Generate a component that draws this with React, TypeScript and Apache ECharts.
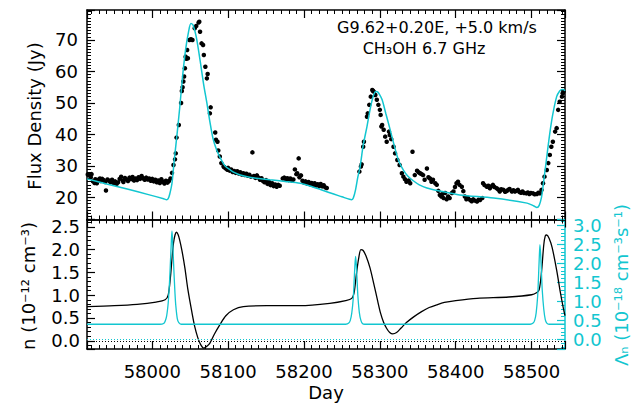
import React, { useEffect, useRef } from "react";
import * as echarts from "echarts";

// ---- Observed flux density (Day, Jy) ----
const obsDays = [
  57915, 57917, 57919, 57920, 57922, 57924, 57925, 57927, 57929, 57931, 57932, 57934, 57936, 57938, 57939, 57941,
  57943, 57945, 57947, 57949, 57951, 57953, 57955, 57957, 57959, 57961, 57962, 57964, 57966, 57968, 57970, 57972,
  57974, 57976, 57978, 57980, 57982, 57984, 57986, 57988, 57990, 57992, 57994, 57996, 57998, 58000, 58002, 58004,
  58006, 58008, 58010, 58012, 58014, 58016, 58018, 58020, 58022, 58024, 58026,
  58028, 58030, 58031, 58032, 58035, 58038, 58039, 58040, 58041, 58042, 58043, 58044, 58045, 58046, 58047, 58049,
  58051, 58053, 58056, 58058, 58061, 58062, 58063, 58065, 58067, 58068, 58070, 58072, 58073, 58076, 58077, 58083,
  58084, 58086, 58087, 58089, 58091, 58094,
  58095, 58097, 58099, 58100, 58102, 58104, 58106, 58108, 58110, 58112, 58114, 58116, 58118, 58120, 58122, 58124,
  58126, 58128, 58130, 58132, 58134, 58136, 58138, 58140, 58142, 58144, 58146, 58148, 58150, 58152, 58154, 58156,
  58158, 58160, 58162, 58164, 58166, 58168, 58172, 58174, 58176, 58178, 58180, 58182, 58184, 58186, 58188, 58190,
  58191, 58193, 58194, 58196, 58198, 58200, 58202, 58204, 58206, 58208, 58210, 58212, 58214, 58216, 58218, 58220,
  58222, 58224, 58226, 58228, 58230,
  58273, 58275, 58276, 58278, 58279, 58283, 58284, 58286, 58288, 58290, 58291, 58292, 58294, 58296, 58298, 58300,
  58301, 58302, 58303, 58305, 58307, 58309, 58312, 58313, 58315, 58318, 58320, 58323, 58326, 58329, 58331, 58333,
  58335, 58338, 58340, 58343, 58346, 58349, 58351, 58353, 58355, 58357, 58359, 58362, 58364, 58366, 58368, 58370,
  58373, 58375, 58377, 58379, 58381, 58382, 58384, 58386, 58388, 58390, 58392, 58395, 58397, 58399, 58401, 58403,
  58405, 58408, 58410, 58412, 58414, 58416, 58419, 58421, 58423, 58425, 58428, 58430, 58432, 58435, 58436, 58438,
  58441, 58443, 58445, 58447, 58449, 58451, 58454, 58456, 58458, 58460, 58463, 58465, 58467, 58469, 58471, 58474,
  58476, 58478, 58480, 58482, 58484, 58486, 58488, 58490, 58493, 58495, 58497, 58499, 58502, 58504, 58507, 58509,
  58511, 58513, 58515, 58517, 58520, 58522, 58524, 58526, 58528, 58531, 58533, 58535, 58537, 58540, 58541, 58542,
];
const obsFlux = [
  27.3, 27.0, 26.4, 27.4, 25.1, 24.6, 25.8, 24.5, 25.6, 26.0, 25.2, 25.9, 25.5, 24.9, 22.2, 25.7,
  25.3, 24.8, 25.6, 24.6, 25.1, 24.3, 24.8, 25.9, 26.6, 25.4, 24.9, 26.2, 25.7, 25.2, 26.3, 25.8,
  26.5, 25.4, 26.0, 25.5, 26.4, 25.9, 26.8, 26.1, 25.6, 26.3, 25.7, 26.0, 25.3, 25.9, 25.1, 25.6,
  24.8, 25.4, 24.6, 25.8, 25.0, 24.4, 25.3, 24.7, 25.2, 26.0, 27.8,
  30.3, 32.1, 34.0, 39.0, 43.0, 50.0, 53.8, 55.0, 56.8, 58.4, 61.0, 64.7, 64.0, 66.8, 64.2, 70.0,
  70.2, 70.0, 73.7, 74.4, 75.5, 75.8, 72.6, 68.9, 68.4, 65.2, 61.5, 57.8, 59.2, 46.7, 48.6, 40.6,
  38.3, 37.7, 34.9, 33.0, 30.9, 29.8,
  29.6, 29.2, 28.8, 29.4, 28.5, 28.9, 28.1, 28.4, 27.8, 28.3, 27.6, 28.0, 27.3, 27.7, 27.1, 27.5,
  26.9, 27.2, 26.6, 34.3, 26.8, 26.2, 27.0, 26.3, 25.6, 26.1, 25.2, 24.8, 25.5, 24.3, 24.9, 23.9,
  24.5, 23.6, 24.1, 23.4, 24.0, 23.7, 26.0, 26.3, 25.8, 26.1, 25.5, 26.0, 25.4, 25.7, 28.9, 27.4,
  27.7, 32.4, 26.4, 27.0, 25.3, 24.7, 25.1, 24.4, 24.9, 24.2, 24.6, 23.9, 24.5, 23.8, 24.2, 23.6,
  24.3, 23.5, 23.9, 23.2, 23.0,
  28.2, 29.8, 30.5, 36.1, 37.7, 45.6, 46.7, 49.4, 52.0, 54.1, 53.8, 53.6, 52.5, 51.0, 49.4, 47.8,
  46.2, 42.5, 43.0, 41.5, 39.3, 37.7, 40.9, 39.8, 38.5, 36.1, 34.0, 31.9, 30.3, 27.7, 26.6, 25.8,
  25.0, 25.4, 24.5, 34.5, 27.1, 28.5, 28.0, 27.7, 27.4, 27.1, 25.6, 29.2, 26.4, 26.0, 25.0, 25.6,
  24.5, 24.0, 22.1, 20.8, 20.3, 21.0, 19.8, 21.4, 19.4, 20.3, 19.8, 21.4, 21.9, 23.3, 24.5, 25.0,
  24.0, 23.4, 22.0, 20.3, 19.4, 19.9, 19.2, 18.8, 19.4, 19.0, 18.7, 19.3, 19.2, 19.8, 24.5, 23.9,
  23.4, 23.7, 22.9, 23.5, 24.0, 23.3, 22.9, 22.5, 21.9, 22.6, 22.4, 21.8, 22.0, 22.4, 22.7, 21.9,
  22.3, 21.9, 22.1, 22.4, 21.7, 21.5, 21.9, 21.4, 21.3, 21.6, 21.1, 21.4, 21.3, 21.0, 21.1, 21.5,
  21.3, 22.4, 24.5, 26.6, 28.7, 30.9, 33.5, 36.1, 37.7, 40.9, 42.0, 47.8, 50.4, 52.0, 53.1, 53.6,
];

// ---- Model flux density (cyan) ----
const modelDays = [
  57914, 57940, 57967, 57995, 58015, 58019, 58021, 58023, 58026, 58029, 58032, 58036, 58040, 58044, 58048, 58051,
  58054, 58058, 58063, 58068, 58072, 58076, 58080, 58085, 58090, 58096, 58103, 58110, 58116, 58130, 58155, 58175,
  58195, 58210, 58221, 58235, 58250, 58260, 58263, 58265, 58268, 58271, 58274, 58278, 58283, 58288, 58292, 58295,
  58297, 58300, 58303, 58308, 58313, 58320, 58325, 58331, 58337, 58344, 58352, 58362, 58380, 58405, 58450, 58494,
  58503, 58507, 58510, 58513, 58515, 58519, 58524, 58528, 58533, 58537, 58540, 58542, 58544,
];
const modelFlux = [
  25.9, 24.3, 22.7, 20.9, 19.6, 19.3, 19.6, 21.0, 24.5, 31.9, 38.5, 48.0, 58.5, 67.0, 72.8, 75.2,
  74.6, 71.0, 63.6, 55.5, 50.0, 44.0, 38.8, 35.0, 32.4, 30.0, 28.7, 27.7, 27.1, 26.3, 25.6, 25.1,
  24.5, 23.5, 22.6, 21.4, 20.2, 19.4, 19.3, 19.8, 22.5, 26.5, 29.8, 36.5, 42.5, 49.0, 52.7, 53.6,
  53.5, 52.5, 51.0, 46.5, 42.0, 35.5, 31.5, 28.7, 26.7, 25.3, 24.0, 23.0, 22.0, 20.8, 19.8, 18.2,
  17.3, 16.8, 17.5, 20.0, 23.4, 31.0, 40.4, 46.5, 52.0, 53.8, 54.3, 54.3, 53.8,
];

// ---- Density n (10^-12 cm^-3), black ----
const nDays = [
  57914, 57950, 57980, 58005, 58017, 58021, 58024, 58026, 58028, 58030, 58032, 58034, 58036, 58039, 58043, 58047,
  58052, 58056, 58060, 58064, 58068, 58072, 58076, 58082, 58089, 58097, 58107, 58120, 58151, 58195, 58234, 58255,
  58263, 58266, 58269, 58272, 58275, 58278, 58282, 58287, 58292, 58297, 58301, 58305, 58309, 58313, 58317, 58322,
  58328, 58335, 58345, 58355, 58365, 58375, 58385, 58400, 58428, 58470, 58500, 58507, 58510, 58513, 58516, 58518,
  58520, 58523, 58527, 58533, 58538, 58542, 58544,
];
const nValues = [
  0.75, 0.77, 0.8, 0.85, 0.9, 1.0, 1.4, 1.8, 2.14, 2.32, 2.38, 2.33, 2.22, 1.99, 1.6, 1.12,
  0.65, 0.31, 0.07, -0.09, -0.16, -0.12, -0.05, 0.15, 0.35, 0.55, 0.68, 0.75, 0.77, 0.77, 0.82, 0.88,
  0.93, 1.05, 1.45, 1.8, 2.0, 1.98, 1.85, 1.6, 1.25, 0.88, 0.6, 0.4, 0.27, 0.18, 0.15, 0.18,
  0.28, 0.4, 0.53, 0.64, 0.73, 0.79, 0.84, 0.88, 0.93, 0.96, 1.01, 1.06, 1.12, 1.5, 2.1, 2.3,
  2.32, 2.25, 2.05, 1.55, 1.05, 0.7, 0.55,
];

// ---- Pumping rate Lambda_n (10^-18 cm^-3 s^-1), cyan ----
const lamDays = [
  57914, 58010, 58015, 58017, 58019, 58021, 58022, 58023, 58024, 58025, 58026, 58027, 58028, 58029, 58030, 58031,
  58033, 58035, 58038, 58255, 58259, 58261, 58263, 58265, 58266, 58267, 58268, 58269, 58270, 58271, 58273, 58275,
  58277, 58280, 58498, 58502, 58504, 58506, 58508, 58509, 58510, 58511, 58512, 58513, 58514, 58516, 58518, 58520,
  58523, 58544,
];
const lamValues = [
  0.4, 0.4, 0.42, 0.48, 0.62, 0.95, 1.25, 1.6, 2.05, 2.5, 2.85, 2.5, 2.05, 1.6, 1.2, 0.9,
  0.55, 0.44, 0.4, 0.4, 0.43, 0.5, 0.7, 1.1, 1.5, 1.9, 2.18, 1.95, 1.55, 1.15, 0.7, 0.5,
  0.42, 0.4, 0.4, 0.43, 0.5, 0.7, 1.15, 1.6, 2.1, 2.49, 2.2, 1.75, 1.3, 0.8, 0.52, 0.43,
  0.4, 0.4,
];

const CYAN = "#12C6D0";
const FONT = "DejaVu Sans";
const X_MIN = 57914;
const X_MAX = 58544;

function zip(a: number[], b: number[]) {
  return a.map((v, i) => [v, b[i]]);
}

export default function App() {
  const ref = useRef<HTMLDivElement>(null);
  useEffect(() => {
    if (!ref.current) return;
    const chart = echarts.init(ref.current, null, { renderer: "svg" });
    const tickCommon = (color: string) => ({
      axisLine: { show: true, onZero: false, lineStyle: { color, width: 1.5 } },
      axisTick: { show: true, inside: true, length: 8, lineStyle: { color, width: 1.2 } },
      minorTick: { show: true, length: 4, lineStyle: { color, width: 1 } },
      splitLine: { show: false },
    });
    const xBase = (gridIndex: number, position: string, showLabel: boolean) => ({
      type: "value",
      gridIndex,
      position,
      min: X_MIN,
      max: X_MAX,
      splitNumber: 6,
      ...tickCommon("#000"),
      minorTick: { show: true, splitNumber: 10, length: 4, lineStyle: { color: "#000", width: 1 } },
      axisLabel: {
        show: showLabel,
        showMinLabel: false,
        showMaxLabel: false,
        margin: 13,
        color: "#000",
        fontFamily: FONT,
        fontSize: 18,
        formatter: (v: number) => String(Math.round(v)),
      },
    });
    const option: any = {
      animation: false,
      backgroundColor: "#fff",
      grid: [
        { left: 87, top: 10, width: 478, height: 209.5 },
        { left: 87, top: 219.5, width: 478, height: 129.5 },
      ],
      xAxis: [xBase(0, "bottom", false), xBase(0, "top", false), xBase(1, "bottom", true), xBase(1, "top", false)],
      yAxis: [
        {
          type: "value", gridIndex: 0, position: "left", min: 13, max: 79.5, splitNumber: 7,
          ...tickCommon("#000"),
          minorTick: { show: true, splitNumber: 10, length: 4, lineStyle: { color: "#000", width: 1 } },
          axisLabel: { showMinLabel: false, showMaxLabel: false, margin: 9, color: "#000", fontFamily: FONT, fontSize: 18,
            formatter: (v: number) => String(Math.round(v)) },
        },
        {
          type: "value", gridIndex: 0, position: "right", min: 13, max: 79.5, splitNumber: 7,
          ...tickCommon("#000"),
          minorTick: { show: true, splitNumber: 10, length: 4, lineStyle: { color: "#000", width: 1 } },
          axisLabel: { show: false },
        },
        {
          type: "value", gridIndex: 1, position: "left", min: -0.18, max: 2.66, splitNumber: 6,
          ...tickCommon("#000"),
          minorTick: { show: true, splitNumber: 5, length: 4, lineStyle: { color: "#000", width: 1 } },
          axisLabel: { showMinLabel: false, showMaxLabel: false, margin: 7, color: "#000", fontFamily: FONT, fontSize: 18,
            formatter: (v: number) => v.toFixed(1) },
        },
        {
          type: "value", gridIndex: 1, position: "right", min: -0.25, max: 3.15, splitNumber: 7,
          ...tickCommon(CYAN),
          minorTick: { show: true, splitNumber: 5, length: 4, lineStyle: { color: CYAN, width: 1 } },
          axisLabel: { showMinLabel: false, showMaxLabel: false, margin: 8, color: CYAN, fontFamily: FONT, fontSize: 18,
            formatter: (v: number) => v.toFixed(1) },
        },
      ],
      series: [
        {
          type: "scatter", xAxisIndex: 0, yAxisIndex: 0, data: zip(obsDays, obsFlux),
          symbol: "circle", symbolSize: 4.5, itemStyle: { color: "#000", opacity: 1 }, z: 3,
        },
        {
          type: "line", xAxisIndex: 0, yAxisIndex: 0, data: zip(modelDays, modelFlux),
          showSymbol: false, smooth: 0.3, lineStyle: { color: CYAN, width: 1.5 }, z: 4,
        },
        {
          type: "line", xAxisIndex: 2, yAxisIndex: 2, data: zip(nDays, nValues),
          showSymbol: false, smooth: 0.3, lineStyle: { color: "#000", width: 1.3 }, z: 3,
          markLine: {
            silent: true, symbol: "none", label: { show: false },
            lineStyle: { color: "#000", type: [1, 2], width: 1 },
            data: [{ yAxis: 0 }],
          },
        },
        {
          type: "line", xAxisIndex: 2, yAxisIndex: 3, data: zip(lamDays, lamValues),
          showSymbol: false, smooth: 0.3, lineStyle: { color: CYAN, width: 1.3 }, z: 4,
          markLine: {
            silent: true, symbol: "none", label: { show: false },
            lineStyle: { color: CYAN, type: [1, 2], width: 1 },
            data: [{ yAxis: 0 }],
          },
        },
      ],
      graphic: [
        {
          type: "text", x: 34, y: 116, rotation: Math.PI / 2,
          style: { text: "Flux Density (Jy)", fontFamily: FONT, fontSize: 18, fill: "#000", align: "center", verticalAlign: "middle" },
        },
        {
          type: "text", x: 28, y: 286, rotation: Math.PI / 2,
          style: { text: "n (10⁻¹² cm⁻³)", fontFamily: FONT, fontSize: 18, fill: "#000", align: "center", verticalAlign: "middle" },
        },
        {
          type: "text", x: 621, y: 285, rotation: Math.PI / 2,
          style: { text: "Λₙ (10⁻¹⁸ cm⁻³s⁻¹)", fontFamily: FONT, fontSize: 18, fill: CYAN, align: "center", verticalAlign: "middle" },
        },
        {
          type: "text", x: 326, y: 392,
          style: { text: "Day", fontFamily: FONT, fontSize: 18, fill: "#000", align: "center", verticalAlign: "middle" },
        },
        {
          type: "text", x: 437, y: 27,
          style: { text: "G9.62+0.20E, +5.0 km/s", fontFamily: FONT, fontSize: 16, fill: "#000", align: "center", verticalAlign: "middle" },
        },
        {
          type: "text", x: 424, y: 48,
          style: { text: "CH₃OH 6.7 GHz", fontFamily: FONT, fontSize: 16, fill: "#000", align: "center", verticalAlign: "middle" },
        },
      ],
    };
    chart.setOption(option);
    return () => chart.dispose();
  }, []);
  return (
    <div
      ref={ref}
      style={{ position: "fixed", left: 0, top: 0, width: 644, height: 405, background: "#fff" }}
    />
  );
}
